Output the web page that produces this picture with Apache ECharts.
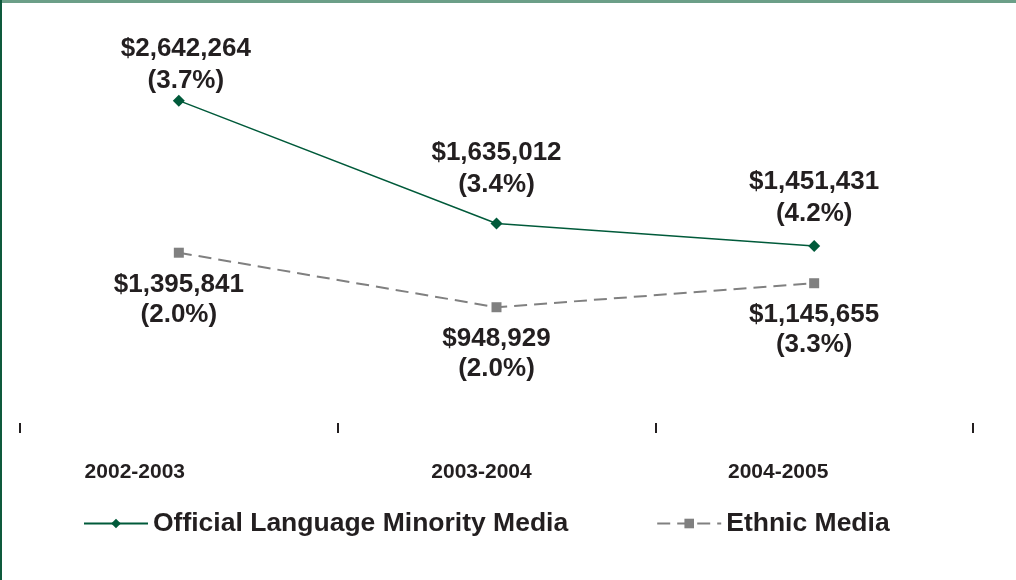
<!DOCTYPE html>
<html>
<head>
<meta charset="utf-8">
<script src="https://cdn.jsdelivr.net/npm/echarts@6/dist/echarts.min.js"></script>
<style>
    html, body { margin: 0; padding: 0; background: #fff; }
    #main { width: 1016px; height: 580px; }
</style>
</head>
<body>
<div id="main"></div>
<script>
var years = ['2002-2003', '2003-2004', '2004-2005'];
var officialMedia = [2642264, 1635012, 1451431];
var officialShare = [3.7, 3.4, 4.2];
var ethnicMedia = [1395841, 948929, 1145655];
var ethnicShare = [2.0, 2.0, 3.3];

var textColor = '#231f20';
var fontName = '"Liberation Sans", Arial, sans-serif';

function moneyLabel(value, share) {
    var s = String(value).replace(/\B(?=(\d{3})+(?!\d))/g, ',');
    return '$' + s + '\n(' + share.toFixed(1) + '%)';
}

var chart = echarts.init(document.getElementById('main'));

// label spacing tweaks per point (excel labels were nudged by hand)
var greenDist = [-2, 17, 10];
var greenShift = [7, 0, 0];
// year labels sit left of the category centre, not evenly
var yearPadRight = [88, 30, 72];

var option = {
    animation: false,
    textStyle: { fontFamily: fontName },
    graphic: [
        { type: 'rect', left: 0, top: 0, shape: { width: 1016, height: 3 }, style: { fill: '#6c9f88' } },
        { type: 'rect', left: 0, top: 0, shape: { width: 2, height: 580 }, style: { fill: '#0e5a3c' } }
    ],
    grid: { left: 20, right: 43, top: 57, bottom: 157 },
    legend: {
        left: 83,
        top: 510,
        padding: 0,
        itemWidth: 64,
        itemHeight: 12,
        itemGap: 88,
        textStyle: { fontSize: 26.5, fontWeight: 'bold', color: textColor, fontFamily: fontName },
        data: ['Official Language Minority Media', 'Ethnic Media']
    },
    xAxis: {
        type: 'category',
        boundaryGap: true,
        data: years.map(function (y, i) {
            return { value: y, textStyle: { padding: [0, yearPadRight[i], 0, 0] } };
        }),
        axisLine: { show: false },
        axisTick: { show: true, length: 10, lineStyle: { color: textColor, width: 2 } },
        axisLabel: {
            margin: 39,
            fontSize: 21,
            fontWeight: 'bold',
            color: textColor,
            fontFamily: fontName
        }
    },
    yAxis: {
        type: 'value',
        min: 0,
        max: 3000000,
        show: false,
        splitLine: { show: false }
    },
    series: [
        {
            name: 'Official Language Minority Media',
            type: 'line',
            symbol: 'diamond',
            symbolSize: 12,
            itemStyle: { color: '#005a3a' },
            lineStyle: { color: '#005a3a', width: 1.5 },
            data: officialMedia.map(function (v, i) {
                return {
                    value: v,
                    label: { distance: greenDist[i], offset: [greenShift[i], 0] }
                };
            }),
            label: {
                show: true,
                position: 'top',
                fontSize: 26,
                lineHeight: 32,
                fontWeight: 'bold',
                color: textColor,
                fontFamily: fontName,
                formatter: function (p) { return moneyLabel(p.value, officialShare[p.dataIndex]); }
            }
        },
        {
            name: 'Ethnic Media',
            type: 'line',
            symbol: 'rect',
            symbolSize: 10,
            itemStyle: { color: '#808080' },
            lineStyle: { color: '#808080', width: 2, type: [13, 7] },
            data: ethnicMedia,
            label: {
                show: true,
                position: 'bottom',
                distance: 12,
                fontSize: 26,
                lineHeight: 30,
                fontWeight: 'bold',
                color: textColor,
                fontFamily: fontName,
                formatter: function (p) { return moneyLabel(p.value, ethnicShare[p.dataIndex]); }
            }
        }
    ]
};
chart.setOption(option);
</script>
</body>
</html>
